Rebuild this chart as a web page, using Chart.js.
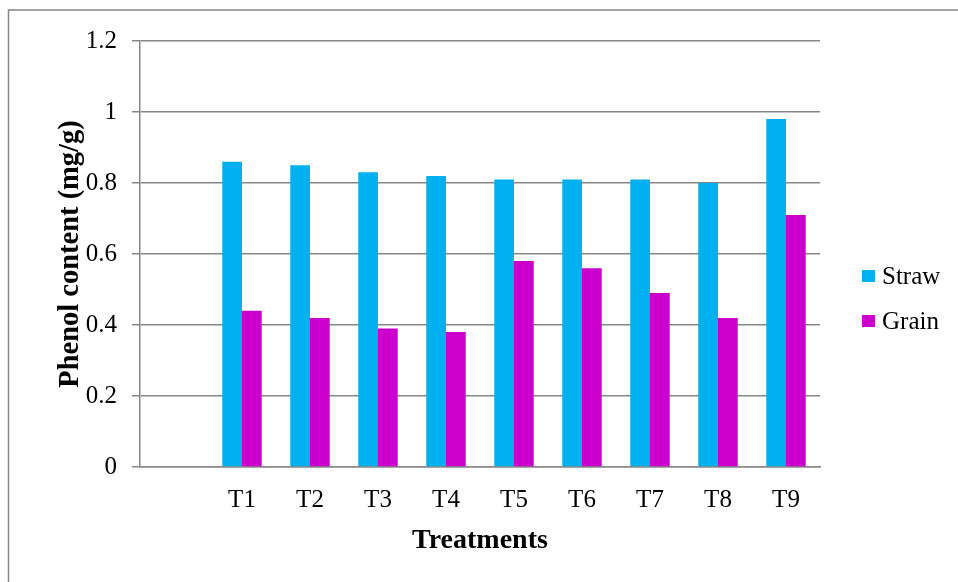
<!DOCTYPE html>
<html>
<head>
<meta charset="utf-8">
<script src="https://cdn.jsdelivr.net/npm/chart.js@4/dist/chart.umd.min.js"></script>
<style>
  html, body { margin: 0; padding: 0; background: #fff; }
  #wrap { width: 958px; height: 582px; }
</style>
</head>
<body>
<div id="wrap"><canvas id="c" width="958" height="582"></canvas></div>
<script>
// Treatments (the first slot is an empty category)
const categories = ['', 'T1', 'T2', 'T3', 'T4', 'T5', 'T6', 'T7', 'T8', 'T9'];
// Phenol content, mg/g
const strawValues = [null, 0.86, 0.85, 0.83, 0.82, 0.81, 0.81, 0.81, 0.80, 0.98];
const grainValues = [null, 0.44, 0.42, 0.39, 0.38, 0.58, 0.56, 0.49, 0.42, 0.71];
const yTickLabels = ['0', '0.2', '0.4', '0.6', '0.8', '1', '1.2'];

const SERIF = '"Liberation Serif", "Times New Roman", serif';
const GRID = '#878787';

// White page plus the outer frame (top and left edges)
const framePlugin = {
  id: 'frame',
  beforeDraw(chart) {
    const ctx = chart.ctx;
    ctx.save();
    ctx.fillStyle = '#fff';
    ctx.fillRect(0, 0, chart.width, chart.height);
    ctx.strokeStyle = GRID;
    ctx.lineWidth = 1.5;
    ctx.beginPath();
    ctx.moveTo(8.5, chart.height + 5);
    ctx.lineTo(8.5, 10);
    ctx.lineTo(chart.width + 5, 10);
    ctx.stroke();
    ctx.restore();
  }
};

// Legend on the right: square swatch + series name
const sideLegend = {
  id: 'sideLegend',
  afterDraw(chart) {
    const ctx = chart.ctx;
    const x = 862, y0 = 276, gap = 45, box = 13;
    ctx.save();
    ctx.font = '25px ' + SERIF;
    ctx.textBaseline = 'middle';
    ctx.textAlign = 'left';
    chart.data.datasets.forEach((ds, i) => {
      const y = y0 + i * gap;
      ctx.fillStyle = ds.backgroundColor;
      ctx.fillRect(x, y - 6, box, 12);
      ctx.fillStyle = '#000';
      ctx.fillText(ds.label, x + 20, y + 1);
    });
    ctx.restore();
  }
};

new Chart(document.getElementById('c'), {
  type: 'bar',
  data: {
    labels: categories,
    datasets: [
      { label: 'Straw', data: strawValues, backgroundColor: '#00B0F0' },
      { label: 'Grain', data: grainValues, backgroundColor: '#CC00CC' }
    ]
  },
  options: {
    responsive: false,
    devicePixelRatio: 1,
    animation: false,
    categoryPercentage: 0.58,
    barPercentage: 1.0,
    layout: { padding: { left: 0, top: 41, right: 138, bottom: 0 } },
    plugins: {
      legend: { display: false },
      tooltip: { enabled: false }
    },
    scales: {
      x: {
        grid: { display: false, drawTicks: false },
        border: { display: true, color: GRID, width: 1.5 },
        ticks: {
          color: '#000',
          font: { family: SERIF, size: 25 },
          padding: 18,
          maxRotation: 0,
          autoSkip: false
        },
        title: {
          display: true,
          text: 'Treatments',
          color: '#000',
          font: { family: SERIF, size: 28, weight: 'bold' },
          padding: { top: 0, bottom: 24 }
        },
        afterFit(scale) { scale.height = 115; }
      },
      y: {
        min: 0,
        max: 1.2,
        grid: { color: GRID, lineWidth: 1.5, drawTicks: true, tickLength: 8 },
        border: { display: true, color: GRID, width: 1.5 },
        ticks: {
          stepSize: 0.2,
          color: '#000',
          font: { family: SERIF, size: 25 },
          padding: 15,
          callback: (v, i) => yTickLabels[i]
        },
        title: {
          display: true,
          text: 'Phenol content (mg/g)',
          color: '#000',
          font: { family: SERIF, size: 28.5, weight: 'bold' },
          padding: { top: 54, bottom: 0 }
        },
        afterFit(scale) { scale.width = 140; }
      }
    }
  },
  plugins: [framePlugin, sideLegend]
});
</script>
</body>
</html>
